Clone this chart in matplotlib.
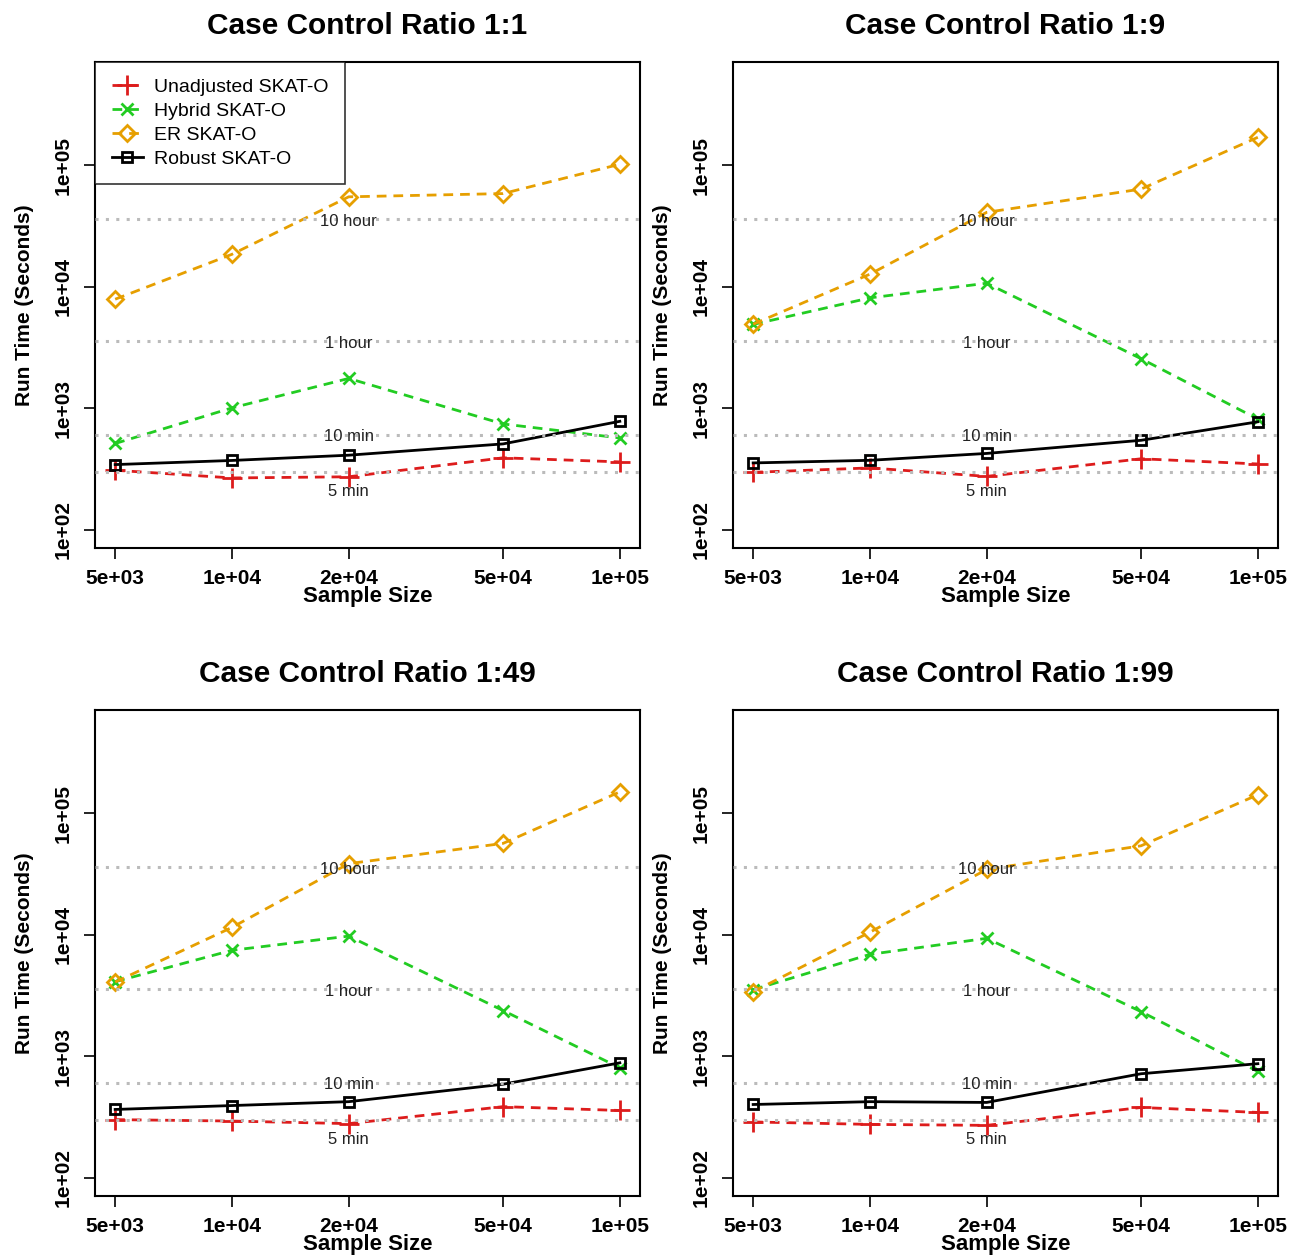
import matplotlib
matplotlib.use("Agg")
import matplotlib.pyplot as plt
from matplotlib.ticker import FixedLocator, FixedFormatter, NullLocator

plt.rcParams['font.family'] = ['Liberation Sans', 'DejaVu Sans']

sample_sizes = [5000, 10000, 20000, 50000, 100000]
x_tick_labels = ['5e+03', '1e+04', '2e+04', '5e+04', '1e+05']
y_ticks = [1e2, 1e3, 1e4, 1e5]
y_tick_labels = ['1e+02', '1e+03', '1e+04', '1e+05']

titles = ['Case Control Ratio 1:1', 'Case Control Ratio 1:9',
          'Case Control Ratio 1:49', 'Case Control Ratio 1:99']

method_names = ['Unadjusted SKAT-O', 'Hybrid SKAT-O', 'ER SKAT-O', 'Robust SKAT-O']

# run times (seconds), one list per panel
unadjusted = [
    [309, 267, 273, 391, 362],
    [297, 323, 275, 384, 348],
    [301, 293, 279, 385, 358],
    [288, 275, 270, 379, 345],
]
hybrid = [
    [513, 1007, 1760, 743, 570],
    [4900, 8100, 10700, 2560, 815],
    [4110, 7450, 9750, 2380, 804],
    [3530, 6900, 9350, 2330, 750],
]
er = [
    [7900, 18500, 55000, 58500, 102000],
    [4920, 12700, 41000, 63700, 170000],
    [4080, 11500, 38500, 56500, 150000],
    [3400, 10500, 34500, 54000, 142000],
]
robust = [
    [344, 372, 411, 509, 781],
    [355, 373, 425, 545, 774],
    [365, 393, 423, 589, 883],
    [401, 423, 417, 718, 869],
]

ref_values = [36000, 3600, 600, 300]
ref_labels = ['10 hour', '1 hour', '10 min', '5 min']
ref_offsets = [-2, -2, -1, -14]

colors = ['#DD1C1C', '#22CC22', '#E69F00', '#000000']
markers = ['+', 'x', 'D', 's']
msizes = [14, 9, 8, 6.5]
dashed = [True, True, True, False]

fig = plt.figure(figsize=(13.04, 12.55), dpi=100)
W, H = 1304, 1255
boxes = [(95, 62), (733, 62), (95, 710), (733, 710)]
bw, bh = 545, 486

for p in range(4):
    x0, y0 = boxes[p]
    ax = fig.add_axes([x0 / W, 1 - (y0 + bh) / H, bw / W, bh / H])
    ax.set_xscale('log')
    ax.set_yscale('log')
    series = [unadjusted[p], hybrid[p], er[p], robust[p]]
    for i, vals in enumerate(series):
        kw = dict(color=colors[i], lw=2.0, marker=markers[i], ms=msizes[i],
                  mew=2.0, label=method_names[i], zorder=2)
        if markers[i] in ('D', 's'):
            kw.update(mfc='none')
        line, = ax.plot(sample_sizes, vals, **kw)
        if dashed[i]:
            line.set_dashes((3.5, 2.5))
    for v, lab, off in zip(ref_values, ref_labels, ref_offsets):
        ax.axhline(v, color='#BBBBBB', lw=2.2, ls=(0, (1, 2.4)), zorder=3)
        ax.annotate(lab, xy=(20000, v), xytext=(0, off), textcoords='offset points',
                    ha='center', va='center', fontsize=12, color='#222222', zorder=5)
    ax.set_xlim(10 ** 3.647, 10 ** 5.052)
    ax.set_ylim(10 ** 1.85, 10 ** 5.85)
    ax.xaxis.set_major_locator(FixedLocator(sample_sizes))
    ax.xaxis.set_major_formatter(FixedFormatter(x_tick_labels))
    ax.xaxis.set_minor_locator(NullLocator())
    ax.yaxis.set_major_locator(FixedLocator(y_ticks))
    ax.yaxis.set_major_formatter(FixedFormatter(y_tick_labels))
    ax.yaxis.set_minor_locator(NullLocator())
    ax.tick_params(axis='both', direction='out', length=8, width=1.2, labelsize=15)
    ax.tick_params(axis='x', pad=7)
    ax.tick_params(axis='y', pad=8)
    for lab in ax.get_xticklabels():
        lab.set_fontweight('bold')
    for lab in ax.get_yticklabels():
        lab.set_fontweight('bold')
        lab.set_rotation(90)
        lab.set_va('center')
    for s in ax.spines.values():
        s.set_linewidth(1.5)
    ax.set_xlabel('Sample Size', fontsize=16, fontweight='bold', labelpad=-1)
    ax.set_ylabel('Run Time (Seconds)', fontsize=15, fontweight='bold', labelpad=14)
    ax.set_title(titles[p], fontsize=21.5, fontweight='bold', pad=20)
    if p == 0:
        leg = ax.legend(loc='upper left', fontsize=14, frameon=True, fancybox=False,
                        borderaxespad=0, handlelength=1.6, handletextpad=0.6,
                        labelspacing=0.32, borderpad=0.85, edgecolor='black')
        leg.get_frame().set_linewidth(1.2)
        leg.set_zorder(10)

fig.savefig('out.png', dpi=100)
